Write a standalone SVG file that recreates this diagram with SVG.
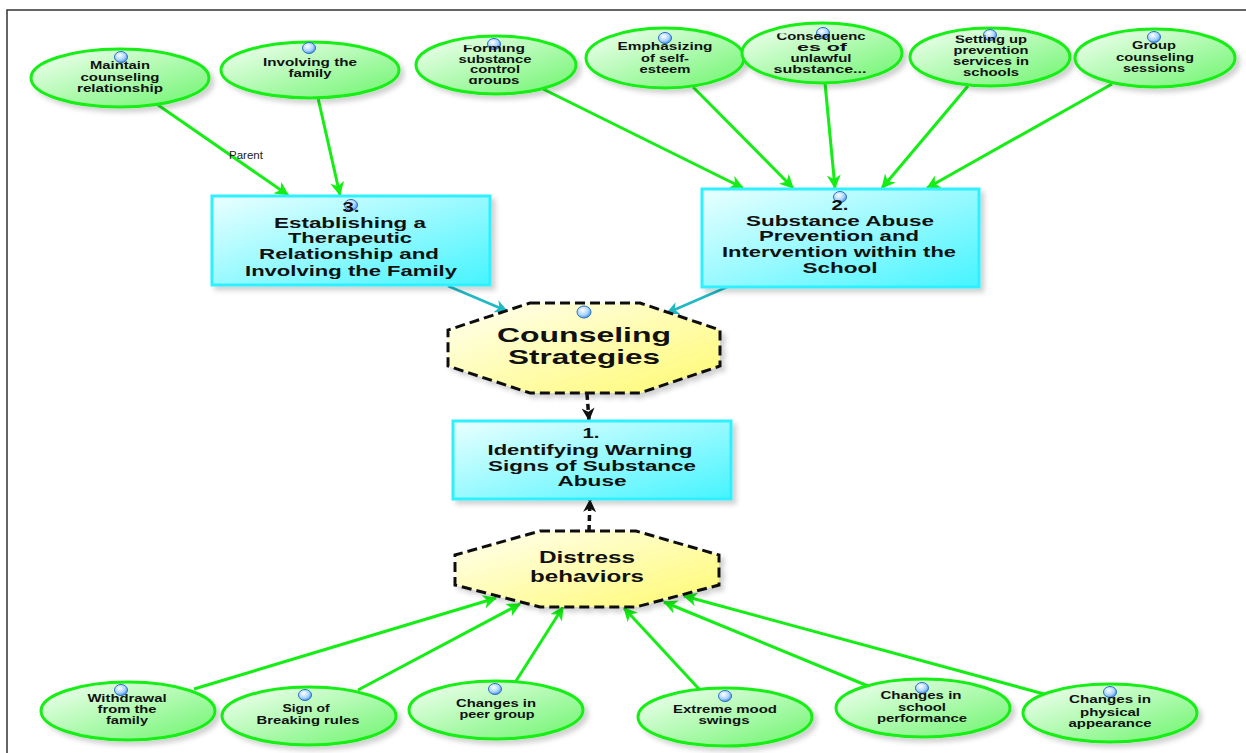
<svg xmlns="http://www.w3.org/2000/svg" width="1246" height="753" viewBox="0 0 1246 753">
<style>
.el{fill:url(#gEl);stroke:#14ee14;stroke-width:3;filter:url(#sh)}
.bx{fill:url(#gBx);stroke:#2ef0ff;stroke-width:3;filter:url(#sh)}
.oc{fill:url(#gOc);stroke:#111;stroke-width:3;stroke-dasharray:10 5;filter:url(#sh)}
.t{font-family:"Liberation Sans",Arial,sans-serif;font-weight:bold;fill:#111;text-anchor:middle}
.s{font-size:11.5px}
.m{font-size:15px}
.g{stroke:#14ee14;stroke-width:3;fill:none;marker-end:url(#aG)}
.c{stroke:#20b8c4;stroke-width:2.5;fill:none;marker-end:url(#aC)}
.d{stroke:#111;stroke-width:3.5;stroke-dasharray:6 4;fill:none;marker-end:url(#aK)}
.bub{fill:url(#gBub);stroke:#2d6fc4;stroke-width:1}
</style>
<defs>
<linearGradient id="gEl" x1="0" y1="0" x2="1" y2="1"><stop offset="0" stop-color="#f6fff6"/><stop offset="1" stop-color="#6cf56c"/></linearGradient>
<linearGradient id="gBx" x1="0" y1="0" x2="1" y2="1"><stop offset="0" stop-color="#eaffff"/><stop offset="1" stop-color="#45f4ff"/></linearGradient>
<linearGradient id="gOc" x1="0" y1="0" x2="1" y2="1"><stop offset="0" stop-color="#fffff2"/><stop offset="1" stop-color="#fffa70"/></linearGradient>
<radialGradient id="gBub" cx="0.4" cy="0.35" r="0.7"><stop offset="0" stop-color="#ffffff"/><stop offset="0.6" stop-color="#a8d4ff"/><stop offset="1" stop-color="#3b86e0"/></radialGradient>
<filter id="sh" x="-10%" y="-10%" width="130%" height="140%"><feDropShadow dx="4" dy="4" stdDeviation="2.5" flood-color="#000" flood-opacity="0.18"/></filter>
<marker id="aG" viewBox="0 0 14 14" markerWidth="14" markerHeight="14" refX="13" refY="7" orient="auto" markerUnits="userSpaceOnUse"><path d="M0,0 L14,7 L0,14 L4,7 z" fill="#14ee14"/></marker>
<marker id="aC" viewBox="0 0 14 14" markerWidth="13" markerHeight="13" refX="13" refY="7" orient="auto" markerUnits="userSpaceOnUse"><path d="M0,0 L14,7 L0,14 L4,7 z" fill="#20b8c4"/></marker>
<marker id="aK" viewBox="0 0 14 14" markerWidth="13" markerHeight="13" refX="13" refY="7" orient="auto" markerUnits="userSpaceOnUse"><path d="M0,0 L14,7 L0,14 L4,7 z" fill="#111"/></marker>
<clipPath id="cForm"><rect x="400" y="45" width="200" height="39"/></clipPath>
<clipPath id="cCons"><rect x="740" y="33.5" width="170" height="60"/></clipPath>
<clipPath id="cSet"><rect x="900" y="35.5" width="180" height="60"/></clipPath>
</defs>
<rect x="0" y="0" width="1246" height="753" fill="#fff"/>
<path d="M7,753 L7,10 L1246,10" fill="none" stroke="#333" stroke-width="1.5"/>

<g id="connectors">
<line class="g" x1="158" y1="105" x2="288" y2="195"/>
<text x="246" y="159" font-family="Liberation Sans,Arial,sans-serif" font-size="11.5" fill="#222" text-anchor="middle">Parent</text>
<line class="g" x1="318" y1="98" x2="340" y2="195"/>
<line class="g" x1="543" y1="89" x2="743" y2="188"/>
<line class="g" x1="693" y1="87" x2="793" y2="188"/>
<line class="g" x1="825" y1="83" x2="835" y2="188"/>
<line class="g" x1="968" y1="86" x2="882" y2="188"/>
<line class="g" x1="1112" y1="84" x2="927" y2="188"/>
<line class="c" x1="448" y1="286" x2="507" y2="311"/>
<line class="c" x1="727" y1="287" x2="667" y2="313"/>
<line class="d" x1="587" y1="394" x2="589" y2="420"/>
<line class="d" x1="589" y1="531" x2="590" y2="500"/>
<line class="g" x1="194" y1="689" x2="496" y2="598"/>
<line class="g" x1="358" y1="690" x2="520" y2="604"/>
<line class="g" x1="516" y1="681" x2="563" y2="607"/>
<line class="g" x1="699" y1="689" x2="624" y2="608"/>
<line class="g" x1="868" y1="686" x2="664" y2="602"/>
<line class="g" x1="1044" y1="694" x2="684" y2="596"/>
</g>

<g id="n_maintain">
<ellipse class="el" cx="120" cy="78" rx="89" ry="29"/>
<ellipse class="bub" cx="121" cy="57" rx="6.5" ry="5.5"/>
<text class="t s" x="120" y="69" textLength="60" lengthAdjust="spacingAndGlyphs">Maintain</text>
<text class="t s" x="120" y="81" textLength="79" lengthAdjust="spacingAndGlyphs">counseling</text>
<text class="t s" x="120" y="92" textLength="86" lengthAdjust="spacingAndGlyphs">relationship</text>
</g>
<g id="n_involving">
<ellipse class="el" cx="310" cy="70" rx="89" ry="28"/>
<ellipse class="bub" cx="309" cy="48" rx="6.5" ry="5.5"/>
<text class="t s" x="310" y="66" textLength="94" lengthAdjust="spacingAndGlyphs">Involving the</text>
<text class="t s" x="310" y="77" textLength="43" lengthAdjust="spacingAndGlyphs">family</text>
</g>
<g id="n_forming">
<ellipse class="el" cx="496" cy="65" rx="80" ry="29"/>
<ellipse class="bub" cx="494" cy="44" rx="6.5" ry="5.5"/>
<g clip-path="url(#cForm)">
<text class="t s" x="494" y="52" textLength="62" lengthAdjust="spacingAndGlyphs">Forming</text>
<text class="t s" x="495" y="63" textLength="73" lengthAdjust="spacingAndGlyphs">substance</text>
<text class="t s" x="495" y="73" textLength="50" lengthAdjust="spacingAndGlyphs">control</text>
<text class="t s" x="494" y="84" textLength="51" lengthAdjust="spacingAndGlyphs">groups</text>
</g>
</g>
<g id="n_emph">
<ellipse class="el" cx="665" cy="58" rx="79" ry="30"/>
<ellipse class="bub" cx="665" cy="38" rx="6.5" ry="5.5"/>
<text class="t s" x="665" y="50" textLength="95" lengthAdjust="spacingAndGlyphs">Emphasizing</text>
<text class="t s" x="665" y="62" textLength="48" lengthAdjust="spacingAndGlyphs">of self-</text>
<text class="t s" x="665" y="73" textLength="51" lengthAdjust="spacingAndGlyphs">esteem</text>
</g>
<g id="n_conseq">
<ellipse class="el" cx="822" cy="53" rx="80" ry="30"/>
<ellipse class="bub" cx="823" cy="33" rx="6.5" ry="5.5"/>
<g clip-path="url(#cCons)">
<text class="t s" x="821" y="40" textLength="89" lengthAdjust="spacingAndGlyphs">Consequenc</text>
<text class="t s" x="822" y="51" textLength="50" lengthAdjust="spacingAndGlyphs">es of</text>
<text class="t s" x="821" y="62" textLength="61" lengthAdjust="spacingAndGlyphs">unlawful</text>
<text class="t s" x="820" y="73" textLength="93" lengthAdjust="spacingAndGlyphs">substance...</text>
</g>
</g>
<g id="n_setting">
<ellipse class="el" cx="990" cy="57" rx="80" ry="29"/>
<ellipse class="bub" cx="990" cy="35" rx="6.5" ry="5.5"/>
<g clip-path="url(#cSet)">
<text class="t s" x="991" y="43" textLength="72" lengthAdjust="spacingAndGlyphs">Setting up</text>
<text class="t s" x="991" y="54" textLength="75" lengthAdjust="spacingAndGlyphs">prevention</text>
<text class="t s" x="991" y="65" textLength="76" lengthAdjust="spacingAndGlyphs">services in</text>
<text class="t s" x="991" y="76" textLength="56" lengthAdjust="spacingAndGlyphs">schools</text>
</g>
</g>
<g id="n_group">
<ellipse class="el" cx="1155" cy="58" rx="80" ry="29"/>
<ellipse class="bub" cx="1154" cy="37" rx="6.5" ry="5.5"/>
<text class="t s" x="1154" y="49" textLength="44" lengthAdjust="spacingAndGlyphs">Group</text>
<text class="t s" x="1155" y="61" textLength="78" lengthAdjust="spacingAndGlyphs">counseling</text>
<text class="t s" x="1154" y="72" textLength="62" lengthAdjust="spacingAndGlyphs">sessions</text>
</g>

<g id="n_box3">
<rect class="bx" x="212" y="196" width="278" height="89"/>
<ellipse class="bub" cx="351" cy="205" rx="6.5" ry="5.5"/>
<text class="t m" x="351" y="212" textLength="17" lengthAdjust="spacingAndGlyphs">3.</text>
<text class="t m" x="350" y="228" textLength="152" lengthAdjust="spacingAndGlyphs">Establishing a</text>
<text class="t m" x="350" y="243" textLength="124" lengthAdjust="spacingAndGlyphs">Therapeutic</text>
<text class="t m" x="349" y="259" textLength="180" lengthAdjust="spacingAndGlyphs">Relationship and</text>
<text class="t m" x="351" y="276" textLength="212" lengthAdjust="spacingAndGlyphs">Involving the Family</text>
</g>
<g id="n_box2">
<rect class="bx" x="702" y="189" width="277" height="98"/>
<ellipse class="bub" cx="840" cy="197" rx="6.5" ry="5.5"/>
<text class="t m" x="840" y="210" textLength="17" lengthAdjust="spacingAndGlyphs">2.</text>
<text class="t m" x="840" y="226" textLength="188" lengthAdjust="spacingAndGlyphs">Substance Abuse</text>
<text class="t m" x="839" y="241" textLength="160" lengthAdjust="spacingAndGlyphs">Prevention and</text>
<text class="t m" x="839" y="257" textLength="234" lengthAdjust="spacingAndGlyphs">Intervention within the</text>
<text class="t m" x="840" y="273" textLength="75" lengthAdjust="spacingAndGlyphs">School</text>
</g>
<g id="n_counsel">
<polygon class="oc" points="530,303 640,303 720,330 720,366 640,393 530,393 448,366 448,330"/>
<ellipse class="bub" cx="584" cy="312" rx="7" ry="6"/>
<text class="t" font-size="21" x="584" y="342" textLength="174" lengthAdjust="spacingAndGlyphs">Counseling</text>
<text class="t" font-size="21" x="584" y="364" textLength="152" lengthAdjust="spacingAndGlyphs">Strategies</text>
</g>
<g id="n_box1">
<rect class="bx" x="453" y="421" width="278" height="78"/>
<text class="t m" x="591" y="438" textLength="17" lengthAdjust="spacingAndGlyphs">1.</text>
<text class="t m" x="590" y="455" textLength="205" lengthAdjust="spacingAndGlyphs">Identifying Warning</text>
<text class="t m" x="592" y="471" textLength="208" lengthAdjust="spacingAndGlyphs">Signs of Substance</text>
<text class="t m" x="592" y="486" textLength="69" lengthAdjust="spacingAndGlyphs">Abuse</text>
</g>
<g id="n_distress">
<polygon class="oc" points="540,531 636,531 719,555 719,585 636,607 540,607 455,585 455,555"/>
<text class="t" font-size="16" x="587" y="563" textLength="96" lengthAdjust="spacingAndGlyphs">Distress</text>
<text class="t" font-size="16" x="587" y="582" textLength="114" lengthAdjust="spacingAndGlyphs">behaviors</text>
</g>

<g id="n_withdrawal">
<ellipse class="el" cx="128" cy="711" rx="87" ry="29"/>
<ellipse class="bub" cx="121" cy="690" rx="6.5" ry="5.5"/>
<text class="t s" x="127" y="702" textLength="79" lengthAdjust="spacingAndGlyphs">Withdrawal</text>
<text class="t s" x="127" y="713" textLength="59" lengthAdjust="spacingAndGlyphs">from the</text>
<text class="t s" x="127" y="724" textLength="42" lengthAdjust="spacingAndGlyphs">family</text>
</g>
<g id="n_sign">
<ellipse class="el" cx="309" cy="716" rx="87" ry="29"/>
<ellipse class="bub" cx="305" cy="695" rx="6.5" ry="5.5"/>
<text class="t s" x="306" y="712" textLength="47" lengthAdjust="spacingAndGlyphs">Sign of</text>
<text class="t s" x="308" y="724" textLength="103" lengthAdjust="spacingAndGlyphs">Breaking rules</text>
</g>
<g id="n_peer">
<ellipse class="el" cx="496" cy="710" rx="87" ry="29"/>
<ellipse class="bub" cx="495" cy="689" rx="6.5" ry="5.5"/>
<text class="t s" x="496" y="707" textLength="80" lengthAdjust="spacingAndGlyphs">Changes in</text>
<text class="t s" x="497" y="718" textLength="75" lengthAdjust="spacingAndGlyphs">peer group</text>
</g>
<g id="n_extreme">
<ellipse class="el" cx="725" cy="717" rx="87" ry="29"/>
<ellipse class="bub" cx="725" cy="696" rx="6.5" ry="5.5"/>
<text class="t s" x="725" y="713" textLength="104" lengthAdjust="spacingAndGlyphs">Extreme mood</text>
<text class="t s" x="724" y="724" textLength="51" lengthAdjust="spacingAndGlyphs">swings</text>
</g>
<g id="n_school">
<ellipse class="el" cx="923" cy="708" rx="87" ry="29"/>
<ellipse class="bub" cx="922" cy="688" rx="6.5" ry="5.5"/>
<text class="t s" x="921" y="699" textLength="81" lengthAdjust="spacingAndGlyphs">Changes in</text>
<text class="t s" x="922" y="711" textLength="48" lengthAdjust="spacingAndGlyphs">school</text>
<text class="t s" x="922" y="722" textLength="90" lengthAdjust="spacingAndGlyphs">performance</text>
</g>
<g id="n_physical">
<ellipse class="el" cx="1110" cy="713" rx="87" ry="29"/>
<ellipse class="bub" cx="1110" cy="692" rx="6.5" ry="5.5"/>
<text class="t s" x="1110" y="703" textLength="82" lengthAdjust="spacingAndGlyphs">Changes in</text>
<text class="t s" x="1110" y="716" textLength="60" lengthAdjust="spacingAndGlyphs">physical</text>
<text class="t s" x="1110" y="727" textLength="83" lengthAdjust="spacingAndGlyphs">appearance</text>
</g>
</svg>
